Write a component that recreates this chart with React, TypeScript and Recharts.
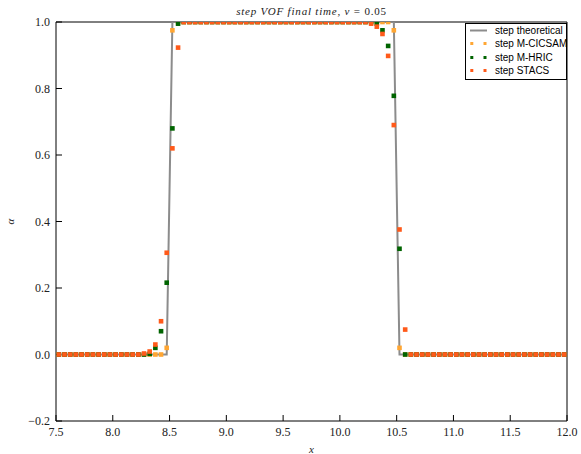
import React from "react";
import { ScatterChart, Scatter, XAxis, YAxis, Legend } from "recharts";

// cell centres of the 1D mesh
const xValues = [
  7.525, 7.575, 7.625, 7.675, 7.725, 7.775, 7.825, 7.875, 7.925, 7.975,
  8.025, 8.075, 8.125, 8.175, 8.225, 8.275, 8.325, 8.375, 8.425, 8.475,
  8.525, 8.575, 8.625, 8.675, 8.725, 8.775, 8.825, 8.875, 8.925, 8.975,
  9.025, 9.075, 9.125, 9.175, 9.225, 9.275, 9.325, 9.375, 9.425, 9.475,
  9.525, 9.575, 9.625, 9.675, 9.725, 9.775, 9.825, 9.875, 9.925, 9.975,
  10.025, 10.075, 10.125, 10.175, 10.225, 10.275, 10.325, 10.375, 10.425, 10.475,
  10.525, 10.575, 10.625, 10.675, 10.725, 10.775, 10.825, 10.875, 10.925, 10.975,
  11.025, 11.075, 11.125, 11.175, 11.225, 11.275, 11.325, 11.375, 11.425, 11.475,
  11.525, 11.575, 11.625, 11.675, 11.725, 11.775, 11.825, 11.875, 11.925, 11.975,
];

const theoretical = [
  0, 0, 0, 0, 0, 0, 0, 0, 0, 0,
  0, 0, 0, 0, 0, 0, 0, 0, 0, 0,
  1, 1, 1, 1, 1, 1, 1, 1, 1, 1,
  1, 1, 1, 1, 1, 1, 1, 1, 1, 1,
  1, 1, 1, 1, 1, 1, 1, 1, 1, 1,
  1, 1, 1, 1, 1, 1, 1, 1, 1, 1,
  0, 0, 0, 0, 0, 0, 0, 0, 0, 0,
  0, 0, 0, 0, 0, 0, 0, 0, 0, 0,
  0, 0, 0, 0, 0, 0, 0, 0, 0, 0,
];

const mCicsam = [
  0, 0, 0, 0, 0, 0, 0, 0, 0, 0,
  0, 0, 0, 0, 0, 0, 0, 0, 0, 0.02,
  0.975, 1, 1, 1, 1, 1, 1, 1, 1, 1,
  1, 1, 1, 1, 1, 1, 1, 1, 1, 1,
  1, 1, 1, 1, 1, 1, 1, 1, 1, 1,
  1, 1, 1, 1, 1, 1, 1, 1, 1, 0.975,
  0.02, 0, 0, 0, 0, 0, 0, 0, 0, 0,
  0, 0, 0, 0, 0, 0, 0, 0, 0, 0,
  0, 0, 0, 0, 0, 0, 0, 0, 0, 0,
];

const mHric = [
  0, 0, 0, 0, 0, 0, 0, 0, 0, 0,
  0, 0, 0, 0, 0, 0, 0.002, 0.02, 0.07, 0.216,
  0.68, 0.995, 1, 1, 1, 1, 1, 1, 1, 1,
  1, 1, 1, 1, 1, 1, 1, 1, 1, 1,
  1, 1, 1, 1, 1, 1, 1, 1, 1, 1,
  1, 1, 1, 1, 1, 1, 0.995, 0.975, 0.928, 0.778,
  0.318, 0, 0, 0, 0, 0, 0, 0, 0, 0,
  0, 0, 0, 0, 0, 0, 0, 0, 0, 0,
  0, 0, 0, 0, 0, 0, 0, 0, 0, 0,
];

const stacs = [
  0, 0, 0, 0, 0, 0, 0, 0, 0, 0,
  0, 0, 0, 0, 0, 0.003, 0.009, 0.03, 0.1, 0.306,
  0.62, 0.923, 1, 1, 1, 1, 1, 1, 1, 1,
  1, 1, 1, 1, 1, 1, 1, 1, 1, 1,
  1, 1, 1, 1, 1, 1, 1, 1, 1, 1,
  1, 1, 1, 1, 1, 0.995, 0.986, 0.964, 0.898, 0.69,
  0.376, 0.075, 0, 0, 0, 0, 0, 0, 0, 0,
  0, 0, 0, 0, 0, 0, 0, 0, 0, 0,
  0, 0, 0, 0, 0, 0, 0, 0, 0, 0,
];

const xTicks = [7.5, 8.0, 8.5, 9.0, 9.5, 10.0, 10.5, 11.0, 11.5, 12.0];
const yTicks = [-0.2, 0.0, 0.2, 0.4, 0.6, 0.8, 1.0];
const Y_MAX = 1.0;

const GREY = "#8c8c8c";
const CICSAM = "#ffa633";
const HRIC = "#006400";
const STACS = "#ff5a1a";

const SERIF = '"Liberation Serif", "DejaVu Serif", serif';
const SANS = '"Liberation Sans", Arial, sans-serif';

const legendItems = [
  { name: "step theoretical", color: GREY, kind: "line" },
  { name: "step M-CICSAM", color: CICSAM, kind: "dots" },
  { name: "step M-HRIC", color: HRIC, kind: "dots" },
  { name: "step STACS", color: STACS, kind: "dots" },
];

const toPoints = (ys: number[]) => xValues.map((x, i) => ({ x, y: ys[i] }));

const fmt = (v: number) => (v < 0 ? "\u2212" : "") + Math.abs(v).toFixed(1);

// markers sitting on the top spine are cut in half, like the axes clip does
const square = (color: string) => (props: any) => {
  const half = 2.3;
  const onTop = props.payload && props.payload.y >= Y_MAX;
  return (
    <rect
      x={props.cx - half}
      y={onTop ? props.cy : props.cy - half}
      width={half * 2}
      height={onTop ? half : half * 2}
      fill={color}
    />
  );
};

const ChartTitle = (props: any) => {
  const vb = props.viewBox || {};
  const cx = (vb.x ?? 56) + (vb.width ?? 511) / 2;
  const y = (vb.y ?? 21) + (vb.height ?? 1) - 6.7;
  return (
    <text x={cx} y={y} textAnchor="middle" fontFamily={SERIF} fontSize={11} letterSpacing={0.8} fill="#222">
      <tspan fontStyle="italic">step VOF final time,</tspan>
      <tspan> </tspan>
      <tspan fontStyle="italic">ν</tspan>
      <tspan> = 0.05</tspan>
    </text>
  );
};

const AxisTitle = (props: any) => {
  const { text, dx = 0, dy = 0, rotate = false } = props;
  const vb = props.viewBox || {};
  const cx = (vb.x ?? 0) + (vb.width ?? 0) / 2 + dx;
  const cy = (vb.y ?? 0) + (vb.height ?? 0) / 2 + dy;
  return (
    <text
      x={cx}
      y={cy}
      textAnchor="middle"
      dominantBaseline="central"
      transform={rotate ? `rotate(-90 ${cx} ${cy})` : undefined}
      fontFamily={SERIF}
      fontStyle="italic"
      fontSize={11}
      fill="#222"
    >
      {text}
    </text>
  );
};

const renderLegend = () => (
  <div
    style={{
      boxSizing: "border-box",
      width: 102,
      height: 57,
      border: "1px solid #000",
      background: "#fff",
      padding: "0 0 0 4px",
      fontFamily: SANS,
      fontSize: 10,
      color: "#000",
    }}
  >
    {legendItems.map((item) => (
      <div key={item.name} style={{ display: "flex", alignItems: "center", height: 13.3 }}>
        <svg width={17} height={13} style={{ marginRight: 8, flexShrink: 0 }}>
          {item.kind === "line" ? (
            <line x1={0} x2={17} y1={6.5} y2={6.5} stroke={item.color} strokeWidth={2} />
          ) : (
            <>
              <rect x={0.3} y={5} width={3} height={3} fill={item.color} />
              <rect x={13.5} y={5} width={3} height={3} fill={item.color} />
            </>
          )}
        </svg>
        <span style={{ whiteSpace: "nowrap" }}>{item.name}</span>
      </div>
    ))}
  </div>
);

const tickStyle = { fill: "#222", fontSize: 12, fontFamily: SERIF };

export default function App() {
  return (
    <div style={{ position: "absolute", left: 0, top: 0, background: "#fff" }}>
      <ScatterChart width={581} height={454} margin={{ top: 21, right: 13, bottom: 0, left: 0 }}>
        <XAxis
          dataKey="x"
          type="number"
          domain={[7.5, 12]}
          ticks={xTicks}
          allowDataOverflow
          height={33}
          tickSize={-6}
          tickMargin={12}
          tickFormatter={fmt}
          stroke="#000"
          tick={tickStyle}
          label={<AxisTitle text="x" dy={11} />}
        />
        <XAxis
          xAxisId="top"
          orientation="top"
          type="number"
          domain={[7.5, 12]}
          ticks={xTicks}
          allowDataOverflow
          height={1}
          tickSize={-6}
          tick={false}
          stroke="#000"
          label={<ChartTitle />}
        />
        <YAxis
          dataKey="y"
          type="number"
          domain={[-0.2, 1]}
          ticks={yTicks}
          allowDataOverflow
          width={56}
          tickSize={-6}
          tickMargin={12}
          tickFormatter={fmt}
          stroke="#000"
          tick={tickStyle}
          label={<AxisTitle text="α" dx={-18} rotate />}
        />
        <YAxis
          yAxisId="right"
          orientation="right"
          type="number"
          domain={[-0.2, 1]}
          ticks={yTicks}
          allowDataOverflow
          width={1}
          tickSize={-6}
          tick={false}
          stroke="#000"
        />
        <Legend
          layout="vertical"
          align="center"
          verticalAlign="middle"
          wrapperStyle={{ left: 465, top: 23, width: 102 }}
          content={renderLegend}
        />
        <Scatter
          name="step theoretical"
          data={toPoints(theoretical)}
          fill={GREY}
          line={{ stroke: GREY, strokeWidth: 2 }}
          shape={() => <g />}
          isAnimationActive={false}
        />
        <Scatter name="step M-CICSAM" data={toPoints(mCicsam)} fill={CICSAM} shape={square(CICSAM)} isAnimationActive={false} />
        <Scatter name="step M-HRIC" data={toPoints(mHric)} fill={HRIC} shape={square(HRIC)} isAnimationActive={false} />
        <Scatter name="step STACS" data={toPoints(stacs)} fill={STACS} shape={square(STACS)} isAnimationActive={false} />
      </ScatterChart>
    </div>
  );
}
